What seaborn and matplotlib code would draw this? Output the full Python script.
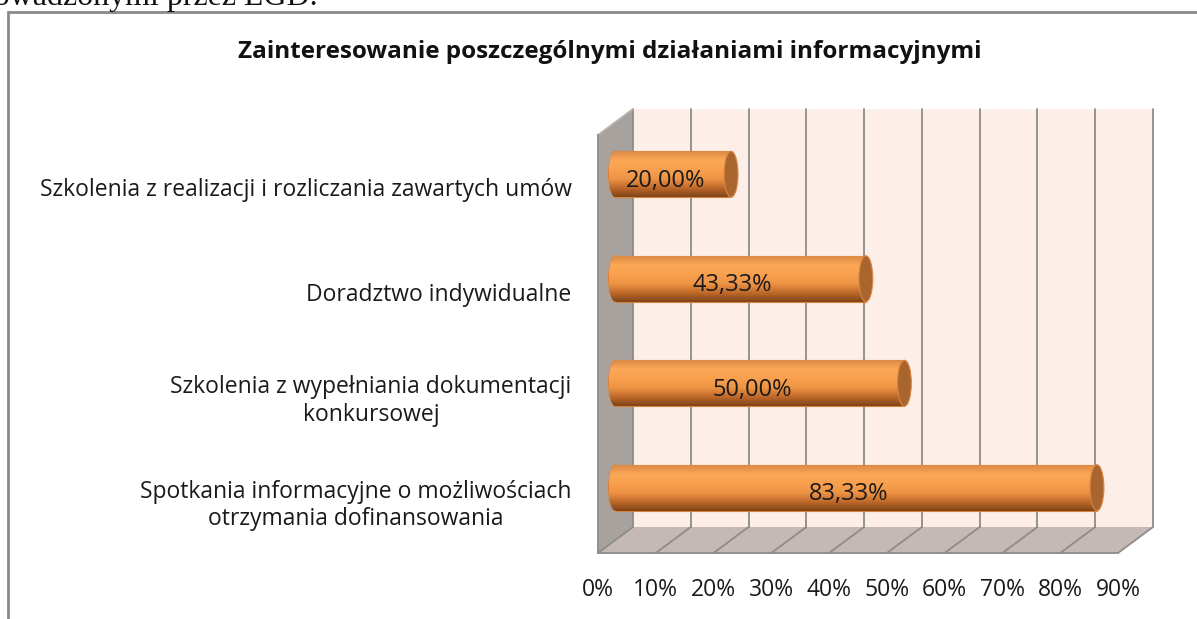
import numpy as np
import pandas as pd
import matplotlib
matplotlib.use("Agg")
import matplotlib.pyplot as plt
import matplotlib.transforms as mtransforms
from matplotlib.patches import Polygon, Ellipse, Rectangle
from matplotlib.colors import LinearSegmentedColormap
import seaborn as sns

# data
categories = [
    "Szkolenia z realizacji i rozliczania zawartych umów",
    "Doradztwo indywidualne",
    "Szkolenia z wypełniania dokumentacji\nkonkursowej",
    "Spotkania informacyjne o możliwościach\notrzymania dofinansowania",
]
values = [20.00, 43.33, 50.00, 83.33]
x_ticks = [0, 10, 20, 30, 40, 50, 60, 70, 80, 90]
x_tick_labels = [f"{t}%" for t in x_ticks]
title = "Zainteresowanie poszczególnymi działaniami informacyjnymi"
page_text = "prowadzonymi przez LGD."

sns.set_theme(style="white")
plt.rcParams["font.family"] = ["Open Sans", "DejaVu Sans"]

W, H, DPI = 1197, 619, 100
fig = plt.figure(figsize=(W / DPI, H / DPI), dpi=DPI)
fig.patch.set_facecolor("white")

# front plane of the 3d box (pixels)
left, right, top, bottom = 598, 1118, 135, 553
ax = fig.add_axes([left / W, 1 - bottom / H, (right - left) / W, (bottom - top) / H])

df = pd.DataFrame({"kategoria": categories, "wartosc": values})
sns.barplot(data=df, x="wartosc", y="kategoria", orient="h", color="#F79B4B",
            width=0.44, ax=ax, zorder=3, edgecolor="#D9823A", linewidth=0.8)
bars = list(ax.patches)

x_max = 90
y_top, y_bot = -0.5, len(categories) - 0.5
ax.set_xlim(0, x_max)
ax.set_ylim(y_bot, y_top)
ax.patch.set_visible(False)

# depth of the box in data units (35 px right, 26 px up)
gx = 35 * x_max / (right - left)
gy = -26 * (y_bot - y_top) / (bottom - top)

grid_c = "#8C8C8C"
ax.add_patch(Polygon([(0, y_top), (0, y_bot), (gx, y_bot + gy), (gx, y_top + gy)],
                     closed=True, fc="#A8A29E", ec="none", clip_on=False, zorder=0))
ax.add_patch(Polygon([(0, y_bot), (x_max, y_bot), (x_max + gx, y_bot + gy), (gx, y_bot + gy)],
                     closed=True, fc="#C4B9B4", ec="none", clip_on=False, zorder=0))
ax.add_patch(Rectangle((gx, y_top + gy), x_max, y_bot - y_top, fc="#FDEEE7", ec="none",
                       clip_on=False, zorder=0))
for t in x_ticks:
    ax.plot([t + gx, t + gx], [y_top + gy, y_bot + gy], color=grid_c, lw=1.3, clip_on=False, zorder=1)
    ax.plot([t, t + gx], [y_bot, y_bot + gy], color=grid_c, lw=1.3, clip_on=False, zorder=1)
ax.plot([0, gx], [y_top, y_top + gy], color="#B8B2AE", lw=1.3, clip_on=False, zorder=1)

# cylinder look for the bars, drawn half way into the box
mid = mtransforms.offset_copy(ax.transData, fig=fig, x=35 / 2, y=26 / 2, units="dots")
label_trans = mtransforms.offset_copy(ax.transData, fig=fig, x=35 / 2 - 8, y=26 / 2, units="dots")
cmap = LinearSegmentedColormap.from_list(
    "cyl", ["#DC8A44", "#FBA857", "#F9A04E", "#EE9446", "#C06A2A", "#7E4418"])
grad = np.linspace(0, 1, 120).reshape(-1, 1)
cap_w = 2.4
for bar, v in zip(bars, values):
    bar.set_transform(mid)
    y0, h = bar.get_y(), bar.get_height()
    yc = y0 + h / 2
    lcap = Ellipse((0, yc), cap_w, h, fc="#F39A4A", ec="#D9823A", lw=0.8,
                   transform=mid, zorder=2.9, clip_on=False)
    ax.add_patch(lcap)
    for clip in (bar, lcap):
        im = ax.imshow(grad, extent=(-cap_w / 2, v, y0 + h, y0), cmap=cmap, aspect="auto",
                       transform=mid, zorder=3.2, interpolation="bilinear")
        im.set_clip_path(clip)
    ax.add_patch(Ellipse((v, yc), cap_w, h, fc="#A9652E", ec="#D9863F", lw=0.8,
                         transform=mid, zorder=4, clip_on=False))
    label = f"{v:.2f}%".replace(".", ",")
    ax.text(v / 2, yc + 0.06, label, transform=label_trans, ha="center", va="center",
            fontsize=17, color="#1A1A1A", zorder=5)

ax.set_xlim(0, x_max)
ax.set_ylim(y_bot, y_top)

# axes, ticks and labels
for side in ("top", "right"):
    ax.spines[side].set_visible(False)
for side in ("left", "bottom"):
    ax.spines[side].set_color(grid_c)
    ax.spines[side].set_linewidth(1.3)
ax.set_xticks(x_ticks)
ax.set_xticklabels(x_tick_labels, fontsize=16.5, color="#1A1A1A")
ax.tick_params(axis="x", direction="out", length=8, width=1.3, color=grid_c, pad=10)
ax.set_yticks(range(len(categories)))
ax.set_yticklabels(categories, fontsize=16.5, color="#1A1A1A", multialignment="center")
ax.set_yticks(np.arange(y_top, y_bot + 0.01, 1), minor=True)
ax.tick_params(axis="y", which="major", length=0, pad=19)
ax.tick_params(axis="y", which="minor", direction="out", length=8, width=1.3, color=grid_c)
ax.set_xlabel("")
ax.set_ylabel("")

fig.text(610 / W, 1 - 52 / H, title, ha="center", va="center", fontsize=17.5,
         fontweight="bold", color="#111111")

# chart frame and the cut off line of document text above it
fig.add_artist(Rectangle((8 / W, -0.05), 1.0, 1 - 12 / H + 0.05, transform=fig.transFigure,
                         fill=False, ec="#8A8A8A", lw=2))
fig.text(318 / W, 1 - 5 / H, page_text, ha="right", va="baseline", fontsize=23,
         family="Liberation Serif", color="#111111")

fig.savefig("out.png", dpi=DPI)
